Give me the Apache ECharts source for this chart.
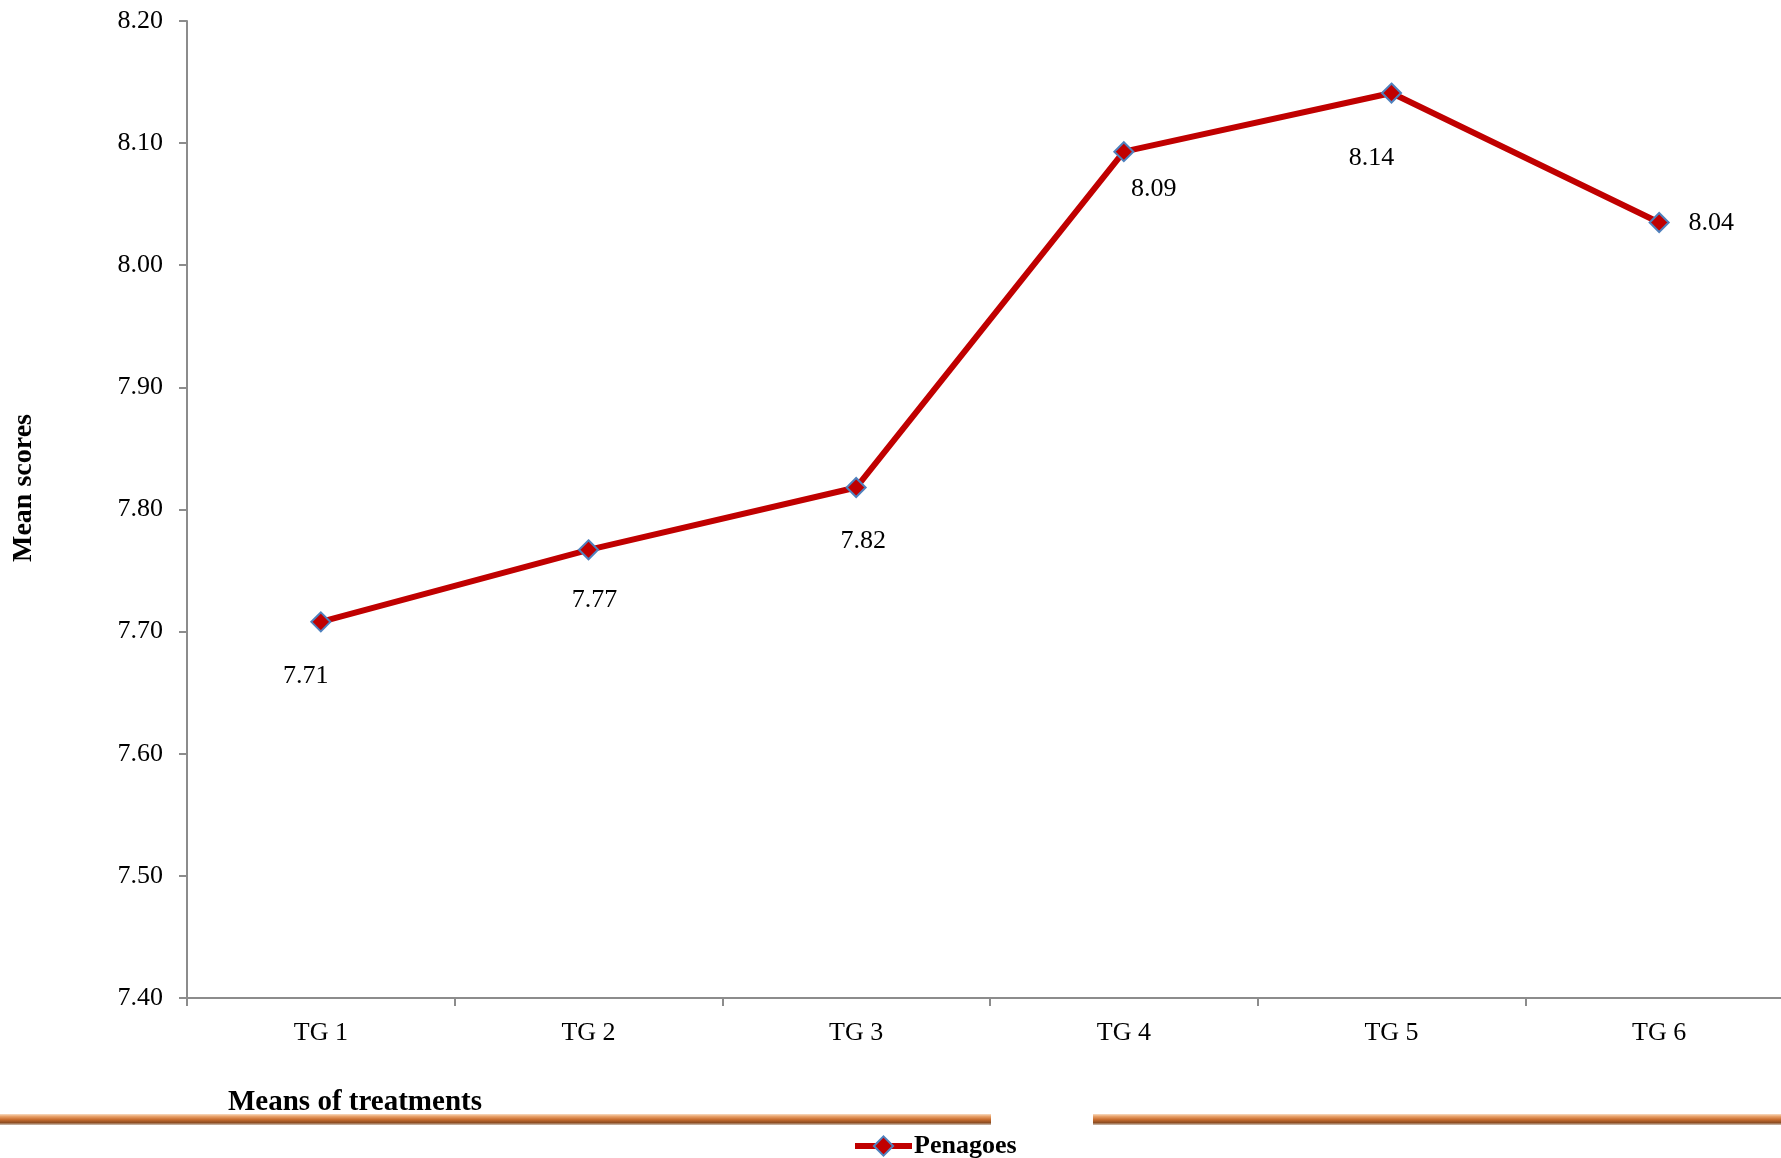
<!DOCTYPE html>
<html>
<head>
<meta charset="utf-8">
<script src="https://cdn.jsdelivr.net/npm/echarts@6/dist/echarts.min.js"></script>
<style>html,body{margin:0;padding:0;background:#fff;}#c{width:1781px;height:1158px;}</style>
</head>
<body>
<div id="c"></div>
<script>
var categories = ['TG 1', 'TG 2', 'TG 3', 'TG 4', 'TG 5', 'TG 6'];
var penagoes = [7.708, 7.767, 7.818, 8.093, 8.141, 8.035];
var yTicks = { min: 7.4, max: 8.2, interval: 0.1 };
var seriesName = 'Penagoes';
var xTitle = 'Means of treatments';
var yTitle = 'Mean scores';
// label offsets (style only)
var labelOffsets = [[-15, 54], [6, 50], [7, 54], [30, 37], [-20, 65], [52, 1]];

var FONT = "'Liberation Serif', 'Times New Roman', serif";
var chart = echarts.init(document.getElementById('c'));
var barGrad = new echarts.graphic.LinearGradient(0, 0, 0, 1, [
  { offset: 0, color: '#f8dcc4' },
  { offset: 0.2, color: '#eaa56e' },
  { offset: 0.5, color: '#c96e30' },
  { offset: 0.78, color: '#8e4e22' },
  { offset: 1, color: '#cfc2b6' }
]);
chart.setOption({
  animation: false,
  backgroundColor: '#fff',
  grid: { left: 187, top: 21, bottom: 160, width: 1606, containLabel: false, outerBoundsMode: 'none' },
  title: {
    text: xTitle, left: 228, top: 1088, padding: 0,
    textStyle: { fontFamily: FONT, fontSize: 29, fontWeight: 'bold', color: '#000' }
  },
  legend: {
    left: 852, top: 1133, padding: 0, itemWidth: 57, itemHeight: 24, itemGap: 4,
    lineStyle: { width: 6, color: '#C00000' },
    textStyle: { fontFamily: FONT, fontSize: 26, fontWeight: 'bold', color: '#000', padding: [0, 0, 0, -3] },
    data: [seriesName]
  },
  xAxis: {
    type: 'category', data: categories, boundaryGap: true,
    axisLine: { lineStyle: { color: '#8c8c8c', width: 2 } },
    axisTick: { show: true, length: 8, lineStyle: { color: '#8c8c8c', width: 2 } },
    axisLabel: { margin: 22, fontFamily: FONT, fontSize: 26, color: '#000' }
  },
  yAxis: {
    type: 'value', min: yTicks.min, max: yTicks.max, interval: yTicks.interval,
    splitLine: { show: false },
    axisLine: { show: true, lineStyle: { color: '#8c8c8c', width: 2 } },
    axisTick: { show: true, length: 8, lineStyle: { color: '#8c8c8c', width: 2 } },
    axisLabel: { margin: 24, fontFamily: FONT, fontSize: 26, color: '#000',
      formatter: function (v) { return v.toFixed(2); } }
  },
  graphic: [
    { type: 'text', x: 24, y: 488, rotation: Math.PI / 2,
      style: { text: yTitle, fontFamily: FONT, fontSize: 28, fontWeight: 'bold', fill: '#000',
        align: 'center', verticalAlign: 'middle' } },
    { type: 'rect', shape: { x: 0, y: 1114, width: 991, height: 11 }, style: { fill: barGrad } },
    { type: 'rect', shape: { x: 1093, y: 1114, width: 700, height: 11 }, style: { fill: barGrad } }
  ],
  series: [{
    name: seriesName, type: 'line',
    data: penagoes.map(function (v, i) {
      return { value: v, label: { offset: labelOffsets[i] } };
    }),
    lineStyle: { color: '#C00000', width: 6 },
    symbol: 'diamond', symbolSize: 19,
    itemStyle: { color: '#C00000', borderColor: '#4F81BD', borderWidth: 2 },
    label: {
      show: true, position: 'inside', fontFamily: FONT, fontSize: 26, color: '#000',
      formatter: function (p) { return p.value.toFixed(2); }
    },
    emphasis: { disabled: true }
  }]
});
</script>
</body>
</html>
